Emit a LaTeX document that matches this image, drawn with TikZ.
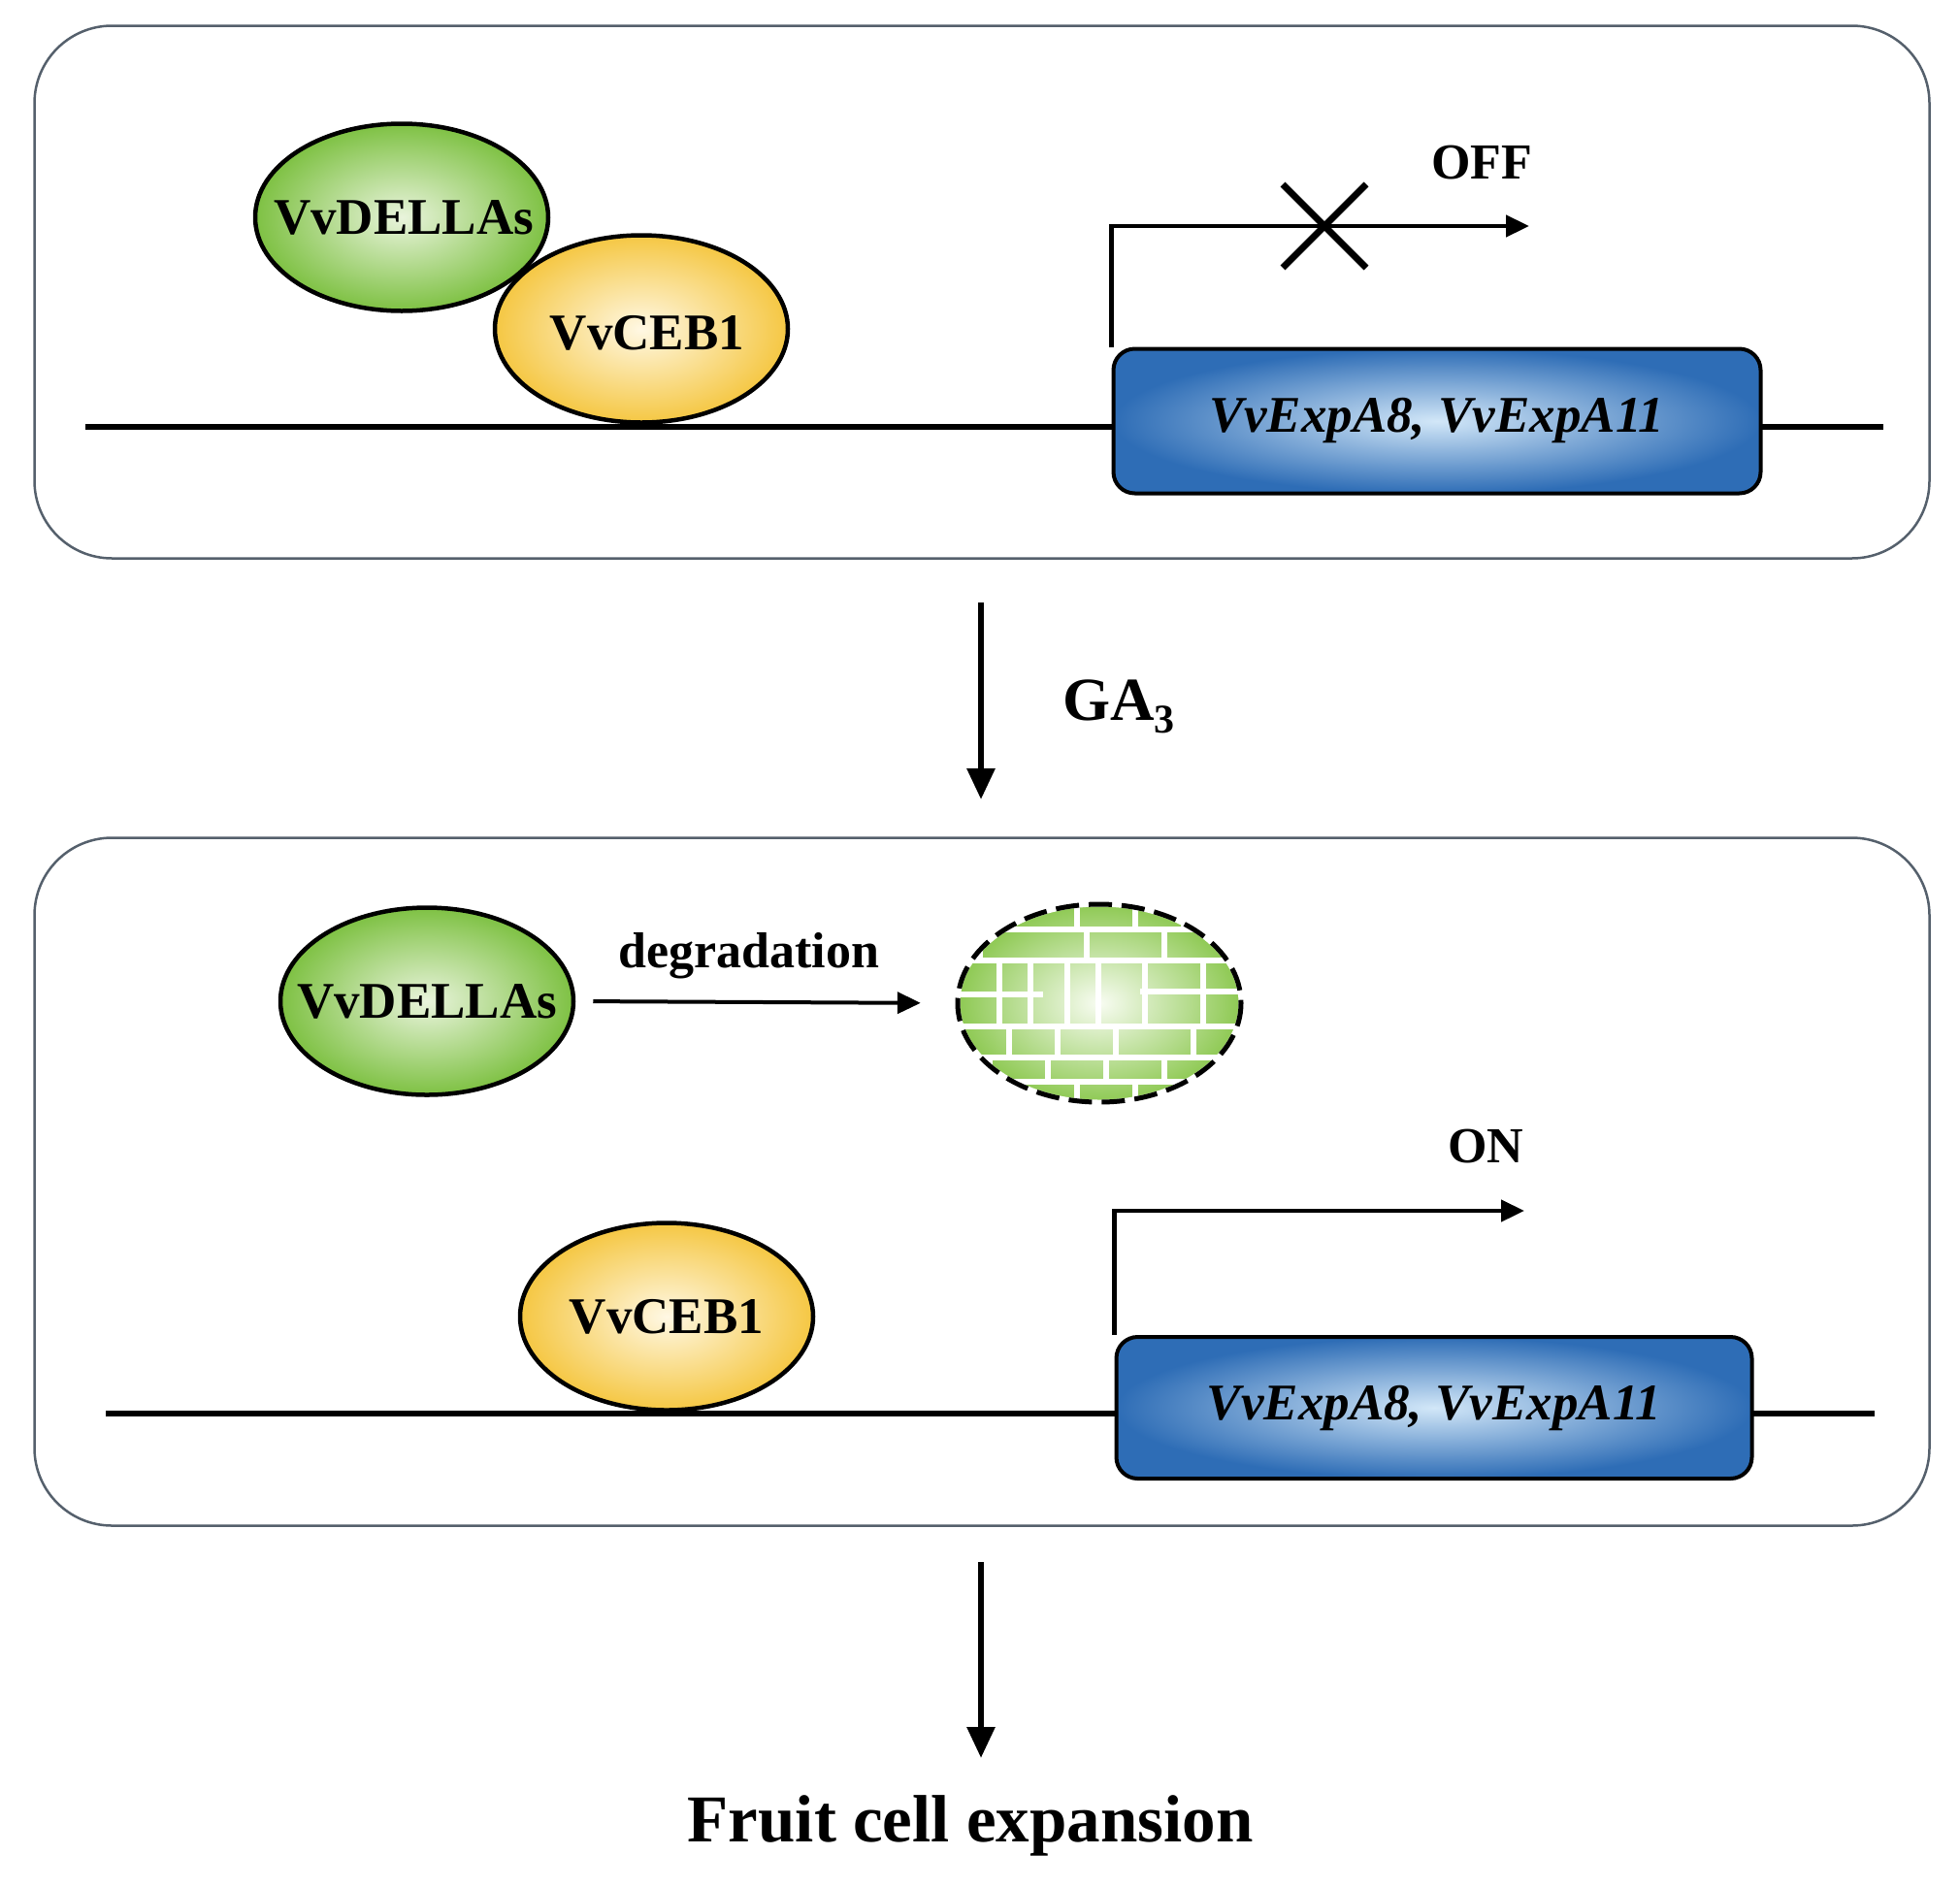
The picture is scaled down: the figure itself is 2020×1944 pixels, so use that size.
\documentclass[tikz,border=0pt]{standalone}
\usepackage{fontspec}
\setmainfont{Liberation Serif}
\usetikzlibrary{shapes.geometric,arrows.meta}
\definecolor{panelc}{HTML}{55606C}
\definecolor{greenin}{HTML}{E9F4DC}
\definecolor{greenout}{HTML}{7EC143}
\definecolor{yellowin}{HTML}{FFF8E4}
\definecolor{yellowout}{HTML}{F5C743}
\definecolor{bluein}{HTML}{D2E7F8}
\definecolor{blueout}{HTML}{2E6DB6}
\definecolor{tilein}{HTML}{F8FCF2}
\definecolor{tileout}{HTML}{8CC850}
\begin{document}
\begin{tikzpicture}[x=1pt,y=-1pt,
  panel/.style={draw=panelc, line width=2.5pt, rounded corners=80pt, minimum width=1953pt, inner sep=0pt},
  prot/.style={ellipse, draw=black, line width=4.5pt, inner sep=0pt},
  protlbl/.style={inner sep=0pt, font=\fontsize{53}{60}\selectfont\bfseries},
  della/.style={prot, minimum width=302pt, minimum height=193pt, inner color=greenin, outer color=greenout},
  ceb/.style={prot, minimum width=302pt, minimum height=193pt, inner color=yellowin, outer color=yellowout},
  gene/.style={rectangle, rounded corners=22pt, draw=black, line width=4pt, inner sep=0pt, inner color=bluein, outer color=blueout, font=\fontsize{53}{60}\selectfont\bfseries\itshape},
  dna/.style={line width=6pt},
  prom/.style={line width=4.5pt, -{Triangle[length=24pt,width=22pt]}},
  bigarrow/.style={line width=6pt, -{Triangle[length=32pt,width=28pt]}},
  lbl/.style={font=\fontsize{52}{60}\selectfont\bfseries, inner sep=0pt},
  tile/.style={white, line width=6pt}
]
\useasboundingbox (0,0) rectangle (2020,1944);

% ---------- top panel ----------
\node (top) [panel, minimum height=549pt] at (1012,301) {};
\coordinate (dna1l) at (88,440);
\coordinate (dna1r) at (1941,440);
\draw[dna] (dna1l) -- (dna1r);
\node (della1) [della] at (414,224) {};
\node (della1t) [protlbl] at ([xshift=2pt]della1.center) {VvDELLAs};
\node (ceb1) [ceb] at (661,339) {};
\node (ceb1t) [protlbl] at ([xshift=6pt,yshift=-4pt]ceb1.center) {VvCEB1};
\node (gene1) [gene, minimum width=667pt, minimum height=149pt] at (1481,434) {VvExpA8, VvExpA11};
\coordinate (offtip) at (1576,233);
\draw[prom] (gene1.north west) |- (offtip);
\draw[line width=7pt] (1322,190) -- (1408,276) (1322,276) -- (1408,190);
\node (off) [lbl] at (1527,168) {OFF};

% ---------- GA3 arrow ----------
\coordinate (ga1) at (1011,621);
\coordinate (ga2) at (1011,824);
\draw[bigarrow] (ga1) -- (ga2);
\node (ga) [anchor=base west, inner sep=0pt, font=\fontsize{63}{70}\selectfont\bfseries] at (1095,742) {GA\raisebox{-13pt}{\fontsize{42}{42}\selectfont 3}};

% ---------- bottom panel ----------
\node (bot) [panel, minimum height=709pt] at (1012,1218) {};
\node (della2) [della] at (440,1032) {};
\node (della2t) [protlbl] at (della2.center) {VvDELLAs};

\begin{scope}
  \clip (1133,1034) ellipse [x radius=146, y radius=102];
  \shade[inner color=tilein, outer color=tileout] (985,930) rectangle (1281,1138);
  \foreach \y in {958,990,1058,1090,1115} \draw[tile] (985,\y) -- (1281,\y);
  \draw[tile] (985,1025) -- (1075,1025) (1175,1022) -- (1281,1022);
  \foreach \ya/\yb/\xs in {930/958/{1040,1110,1170,1220},
                           958/990/{1010,1120,1200},
                           990/1058/{1030,1062,1100,1132,1180,1240},
                           1058/1090/{1040,1090,1150,1230},
                           1090/1115/{1020,1080,1140,1200,1260},
                           1115/1138/{1050,1110,1170,1230}}
    \foreach \x in \xs \draw[tile] (\x,\ya) -- (\x,\yb);
\end{scope}
\node (degr) [ellipse, minimum width=292pt, minimum height=204pt, inner sep=0pt] at (1133,1034) {};
\draw[white, line width=5pt] (degr.center) ellipse [x radius=146, y radius=102];
\draw[black, line width=5pt, dash pattern=on 24pt off 10pt] (degr.center) ellipse [x radius=146, y radius=102];

\draw[prom, line width=4pt, shorten <=18pt, shorten >=38pt] (della2.east) -- (degr.west);
\node (degtxt) [lbl] at (772,985) {degradation};

\coordinate (dna2l) at (109,1457);
\coordinate (dna2r) at (1932,1457);
\draw[dna] (dna2l) -- (dna2r);
\node (ceb2) [ceb] at (687,1357) {};
\node (ceb2t) [protlbl] at (ceb2.center) {VvCEB1};
\node (gene2) [gene, minimum width=655pt, minimum height=146pt] at (1478,1451) {VvExpA8, VvExpA11};
\coordinate (ontip) at (1571,1248);
\draw[prom] (gene2.north west) |- (ontip);
\node (on) [lbl] at (1531,1182) {ON};

% ---------- final arrow ----------
\coordinate (fa1) at (1011,1610);
\coordinate (fa2) at (1011,1812);
\draw[bigarrow] (fa1) -- (fa2);
\node (fruit) [inner sep=0pt, font=\fontsize{69}{76}\selectfont\bfseries] at (1000,1882) {Fruit cell expansion};
\end{tikzpicture}
\end{document}
